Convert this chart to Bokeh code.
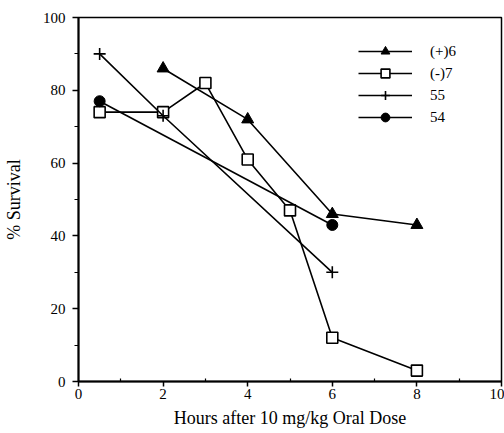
from bokeh.plotting import figure
from bokeh.models import Range1d, Legend, LegendItem, FixedTicker
from bokeh.embed import file_html
from bokeh.resources import INLINE

# data
x_p6 = [2, 4, 6, 8]
y_p6 = [86, 72, 46, 43]
x_m7 = [0.5, 2, 3, 4, 5, 6, 8]
y_m7 = [74, 74, 82, 61, 47, 12, 3]
x_55 = [0.5, 2, 6]
y_55 = [90, 73, 30]
x_54 = [0.5, 6]
y_54 = [77, 43]
labels = ["(+)6", "(-)7", "55", "54"]
x_ticks = [0, 2, 4, 6, 8, 10]
x_minor = [1, 3, 5, 7, 9]
y_ticks = [0, 20, 40, 60, 80, 100]
y_minor = [10, 30, 50, 70, 90]

FONT = "Liberation Serif"

p = figure(width=504, height=433, output_backend="svg", toolbar_location=None,
           x_range=Range1d(0, 10), y_range=Range1d(0, 100),
           min_border_left=78, min_border_right=3, min_border_top=17, min_border_bottom=52)
p.grid.visible = False
p.outline_line_color = "black"
p.outline_line_width = 1.5
p.background_fill_color = "white"
p.border_fill_color = "white"

for ax in (p.xaxis[0], p.yaxis[0]):
    ax.axis_line_width = 2
    ax.major_tick_line_width = 1.5
    ax.minor_tick_line_width = 1.2
    ax.major_label_text_font = FONT
    ax.major_label_text_font_size = "15px"
    ax.major_label_text_color = "black"
    ax.axis_label_text_font = FONT
    ax.axis_label_text_font_size = "18px"
    ax.axis_label_text_font_style = "normal"
    ax.axis_label_text_color = "black"

p.xaxis.ticker = FixedTicker(ticks=x_ticks, minor_ticks=x_minor)
p.yaxis.ticker = FixedTicker(ticks=y_ticks, minor_ticks=y_minor)
p.xaxis.major_tick_out = 5
p.xaxis.major_tick_in = 0
p.xaxis.minor_tick_out = 0
p.xaxis.minor_tick_in = 3
p.yaxis.major_tick_out = 6
p.yaxis.major_tick_in = 0
p.yaxis.minor_tick_out = 4
p.yaxis.minor_tick_in = 0
p.xaxis.major_label_standoff = 2
p.yaxis.major_label_standoff = 7
p.xaxis.axis_label = "Hours after 10 mg/kg Oral Dose"
p.yaxis.axis_label = "% Survival"
p.xaxis.axis_label_standoff = 6
p.yaxis.axis_label_standoff = 16

lw = 1.6
l1 = p.line(x_p6, y_p6, line_color="black", line_width=lw)
m1 = p.scatter(x_p6, y_p6, marker="triangle", size=12, fill_color="black", line_color="black")
l2 = p.line(x_m7, y_m7, line_color="black", line_width=lw)
m2 = p.scatter(x_m7, y_m7, marker="square", size=11, fill_color="white", line_color="black", line_width=1.6)
l3 = p.line(x_55, y_55, line_color="black", line_width=lw)
m3 = p.scatter(x_55, y_55, marker="cross", size=12, line_color="black", line_width=1.6)
l4 = p.line(x_54, y_54, line_color="black", line_width=lw)
m4 = p.scatter(x_54, y_54, marker="circle", size=11, fill_color="black", line_color="black")

legend = Legend(items=[
    LegendItem(label=labels[0], renderers=[l1, m1]),
    LegendItem(label=labels[1], renderers=[l2, m2]),
    LegendItem(label=labels[2], renderers=[l3, m3]),
    LegendItem(label=labels[3], renderers=[l4, m4]),
], location=(280, 253), orientation="vertical")
legend.glyph_width = 54
legend.glyph_height = 22
legend.label_height = 22
legend.spacing = 0
legend.padding = 0
legend.margin = 0
legend.label_standoff = 18
legend.border_line_color = None
legend.background_fill_alpha = 0
legend.label_text_font = FONT
legend.label_text_font_size = "15px"
legend.label_text_color = "black"
p.add_layout(legend)

open("out.html", "w").write(file_html(p, INLINE))
